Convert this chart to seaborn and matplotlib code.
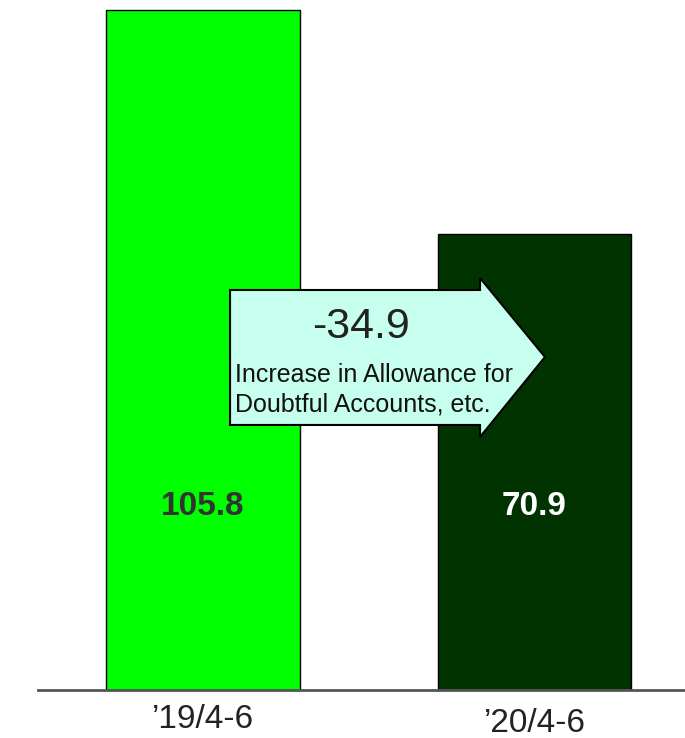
import matplotlib
matplotlib.use("Agg")
import matplotlib.pyplot as plt
import seaborn as sns
import pandas as pd
from matplotlib.patches import Polygon

periods = ["\u201919/4-6", "\u201920/4-6"]
values = [105.8, 70.9]
bar_colors = ["#00ff00", "#003300"]
value_label_colors = ["#333333", "#ffffff"]
change_label = "-34.9"
change_desc = ["Increase in Allowance for", "Doubtful Accounts, etc."]

sns.set_theme(style="white")
plt.rcParams["font.family"] = ["Liberation Sans", "DejaVu Sans"]

df = pd.DataFrame({"period": periods, "value": values})

fig = plt.figure(figsize=(6.85, 7.38), dpi=100)
ax = fig.add_axes([38 / 685, 48 / 738, 647 / 685, 690 / 738])

sns.barplot(data=df, x="period", y="value", hue="period", palette=bar_colors,
            width=0.585, edgecolor="black", linewidth=1.0, legend=False, ax=ax,
            saturation=1)

ax.set_xlim(-0.498, 1.454)
ax.set_ylim(0, 107.36)
ax.set_xlabel("")
ax.set_ylabel("")
ax.set_yticks([])
for s in ["top", "right", "left"]:
    ax.spines[s].set_visible(False)
ax.spines["bottom"].set_color("#555555")
ax.spines["bottom"].set_linewidth(2)
ax.tick_params(axis="x", length=0, pad=10, labelsize=24)
for t in ax.get_xticklabels():
    t.set_color("#222222")
ax.xaxis.get_major_ticks()[1].set_pad(13)

for i, (v, c) in enumerate(zip(values, value_label_colors)):
    ax.text(i, 0.2536, f"{v:.1f}", transform=ax.get_xaxis_transform(),
            ha="center", va="baseline", fontsize=24, fontweight="bold", color=c)

# change arrow (annotation in axes fraction coordinates)
arrow_pts = [(0.2968, 0.3841), (0.2968, 0.5797), (0.6832, 0.5797), (0.6832, 0.5971),
             (0.7836, 0.4826), (0.6832, 0.3667), (0.6832, 0.3841)]
ax.add_patch(Polygon(arrow_pts, closed=True, transform=ax.transAxes,
                     facecolor="#c6ffee", edgecolor="black", linewidth=1.5, zorder=5))
ax.text(0.4992, 0.5101, change_label, transform=ax.transAxes, ha="center",
        va="baseline", fontsize=31, color="#222222", zorder=6)
for line, yb in zip(change_desc, [0.4464, 0.4043]):
    ax.text(0.3045, yb, line, transform=ax.transAxes, ha="left",
            va="baseline", fontsize=18, color="#111111", zorder=6)

fig.savefig("out.png", dpi=100)
